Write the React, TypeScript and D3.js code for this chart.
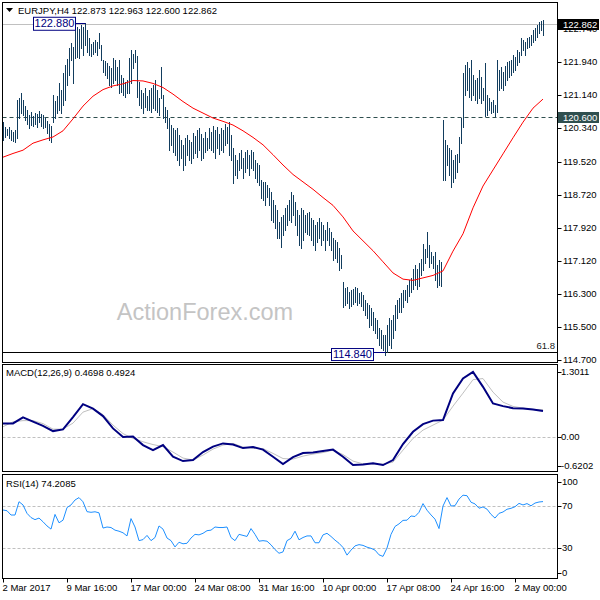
import React from "react";
import * as d3 from "d3";

// ---------- data ----------
const highs = [
  120.48, 120.36, 120.31, 120.36, 120.29, 120.24, 120.29, 121.02, 121.06, 121.19,
  121.02, 120.87, 120.77, 120.65, 120.73, 120.63, 120.70, 120.68, 120.75, 120.68,
  120.65, 120.58, 120.51, 120.43, 120.39, 121.14, 121.00, 121.12, 121.43, 121.26,
  121.67, 121.87, 122.01, 122.28, 122.40, 122.30, 122.79, 122.79, 122.74, 122.84,
  122.79, 122.88, 122.72, 122.52, 122.38, 122.43, 122.47, 122.43, 122.64, 122.35,
  121.99, 121.96, 121.92, 121.84, 121.79, 122.04, 121.99, 121.82, 121.99, 121.62,
  121.55, 121.45, 121.50, 122.04, 122.23, 122.13, 122.23, 122.09, 121.45, 121.26,
  121.19, 121.31, 121.12, 121.26, 121.31, 121.38, 121.50, 121.26, 121.07, 121.82,
  121.14, 120.85, 120.77, 120.58, 120.41, 120.34, 120.29, 120.34, 120.17, 120.05,
  119.92, 120.10, 120.17, 120.05, 120.00, 120.22, 120.14, 120.29, 120.34, 120.19,
  120.10, 120.24, 120.10, 120.34, 120.24, 120.39, 120.29, 120.36, 120.19, 120.34,
  120.29, 120.43, 120.36, 120.48, 120.17, 119.85, 119.68, 119.56, 119.73, 119.80,
  119.61, 119.75, 119.80, 119.68, 119.80, 119.75, 119.56, 119.49, 119.44, 119.07,
  119.03, 119.03, 118.95, 118.88, 118.78, 118.59, 118.47, 118.35, 118.05, 118.17,
  118.22, 118.40, 118.47, 118.59, 118.78, 118.71, 118.54, 118.35, 118.22, 118.40,
  118.35, 118.22, 118.28, 118.30, 118.15, 118.10, 117.98, 118.05, 118.15, 118.05,
  117.98, 117.86, 118.05, 117.91, 117.81, 117.67, 117.62, 117.57, 117.42, 117.25,
  116.60, 116.45, 116.48, 116.36, 116.40, 116.43, 116.48, 116.45, 116.33, 116.36,
  116.28, 116.16, 116.09, 116.04, 115.97, 115.87, 115.72, 115.67, 115.48, 115.43,
  115.31, 115.31, 115.55, 115.72, 115.67, 115.79, 116.04, 116.16, 116.21, 116.33,
  116.40, 116.40, 116.52, 116.64, 116.69, 116.91, 117.01, 116.91, 117.06, 117.16,
  117.52, 117.40, 117.81, 117.49, 117.33, 117.23, 117.33, 117.01, 117.13, 117.08,
  120.53, 120.05, 119.92, 119.85, 119.80, 119.56, 119.68, 119.70, 120.12, 120.58,
  121.67, 121.87, 121.94, 121.79, 121.99, 121.62, 121.50, 121.55, 121.75, 121.57,
  121.31, 121.91, 121.14, 121.07, 120.97, 121.02, 120.90, 121.99, 121.75, 121.82,
  121.70, 121.84, 121.94, 121.97, 121.99, 122.11, 122.06, 122.23, 122.18, 122.52,
  122.47, 122.43, 122.52, 122.55, 122.60, 122.72, 122.77, 122.84, 122.91, 122.93,
  122.963,
];

const lows = [
  120.05, 120.12, 120.17, 120.10, 120.05, 120.02, 120.00, 120.10, 120.58, 120.70,
  120.65, 120.53, 120.43, 120.34, 120.41, 120.39, 120.43, 120.36, 120.48, 120.39,
  120.34, 120.36, 120.22, 120.05, 120.00, 120.48, 120.58, 120.70, 120.77, 120.70,
  120.90, 121.02, 121.38, 121.62, 121.99, 121.43, 122.04, 122.06, 122.04, 122.28,
  122.11, 122.35, 122.18, 122.11, 122.09, 122.13, 122.18, 122.11, 122.28, 121.99,
  121.70, 121.62, 121.55, 121.38, 121.33, 121.43, 121.50, 121.38, 121.19, 121.21,
  121.14, 121.09, 121.19, 121.19, 121.43, 121.79, 121.94, 121.09, 120.90, 120.82,
  120.70, 120.85, 120.77, 120.77, 120.73, 120.82, 120.77, 120.73, 120.65, 121.07,
  120.58, 120.48, 120.34, 119.80, 119.92, 119.75, 119.68, 119.56, 119.44, 119.61,
  119.32, 119.44, 119.68, 119.56, 119.49, 119.61, 119.73, 119.63, 119.80, 119.56,
  119.61, 119.75, 119.80, 119.85, 119.80, 119.75, 119.61, 119.85, 119.70, 119.80,
  119.75, 119.92, 119.97, 119.68, 119.56, 119.00, 119.19, 119.12, 119.32, 119.37,
  119.12, 119.27, 119.37, 119.19, 119.37, 119.32, 119.12, 119.03, 118.95, 118.64,
  118.59, 118.47, 118.66, 118.47, 118.10, 118.05, 117.91, 117.67, 117.67, 117.45,
  117.74, 117.86, 117.98, 118.10, 118.05, 118.22, 117.98, 117.74, 117.49, 117.42,
  117.62, 117.81, 117.76, 117.74, 117.62, 117.49, 117.37, 117.57, 117.67, 117.49,
  117.62, 117.37, 117.62, 117.49, 117.37, 117.13, 117.18, 117.08, 116.89, 116.94,
  115.99, 116.04, 116.09, 115.97, 116.02, 116.06, 116.11, 116.04, 116.09, 116.02,
  115.91, 115.79, 115.72, 115.50, 115.55, 115.43, 115.36, 115.24, 115.07, 115.01,
  114.94, 114.84, 114.89, 115.06, 114.99, 115.24, 115.43, 115.72, 115.87, 115.87,
  115.99, 116.16, 116.11, 116.26, 116.36, 116.43, 116.52, 116.43, 116.50, 116.77,
  116.89, 117.06, 117.21, 116.96, 117.06, 116.94, 116.65, 116.48, 116.52, 116.50,
  119.07, 119.07, 119.44, 119.19, 118.90, 119.03, 119.12, 119.27, 119.51, 119.97,
  120.36, 121.14, 121.26, 121.09, 121.02, 121.14, 121.02, 120.94, 121.07, 120.94,
  121.02, 120.63, 120.65, 120.77, 120.70, 120.73, 120.63, 120.73, 121.26, 121.31,
  121.26, 121.38, 121.50, 121.58, 121.62, 121.70, 121.75, 121.87, 121.94, 122.11,
  122.23, 122.11, 122.28, 122.30, 122.35, 122.43, 122.47, 122.55, 122.64, 122.72,
  122.600,
];

// moving average, one value every 5 bars
const maValues = [
  119.63, 119.72, 119.80, 119.97, 120.05, 120.12, 120.27, 120.56, 120.87, 121.11,
  121.27, 121.36, 121.41, 121.49, 121.48, 121.42, 121.32, 121.16, 120.98, 120.82,
  120.70, 120.58, 120.50, 120.41, 120.27, 120.11, 119.93, 119.69, 119.44, 119.21,
  119.03, 118.85, 118.65, 118.46, 118.18, 117.84, 117.60, 117.36, 117.09, 116.82,
  116.67, 116.64, 116.70, 116.76, 116.87, 117.35, 117.77, 118.40, 118.93, 119.32,
  119.71, 120.10, 120.48, 120.82, 121.04,
];

// MACD(12,26,9), one value every 5 bars
const macdMain = [
  0.248, 0.248, 0.355, 0.280, 0.205, 0.111, 0.141, 0.361, 0.593, 0.513,
  0.379, 0.159, 0.004, 0.013, -0.139, -0.229, -0.139, -0.348, -0.425, -0.407,
  -0.264, -0.166, -0.109, -0.130, -0.193, -0.175, -0.220, -0.348, -0.479, -0.354,
  -0.282, -0.273, -0.246, -0.220, -0.348, -0.496, -0.484, -0.466, -0.496, -0.407,
  -0.121, 0.098, 0.236, 0.298, 0.307, 0.784, 1.052, 1.170, 0.902, 0.605,
  0.557, 0.521, 0.516, 0.495, 0.4698,
];
const macdSignal = [
  0.188, 0.277, 0.298, 0.298, 0.245, 0.146, 0.146, 0.254, 0.450, 0.513,
  0.405, 0.218, 0.066, -0.020, -0.080, -0.130, -0.166, -0.264, -0.371, -0.407,
  -0.318, -0.211, -0.139, -0.109, -0.175, -0.193, -0.202, -0.288, -0.380, -0.389,
  -0.336, -0.300, -0.273, -0.229, -0.309, -0.425, -0.475, -0.479, -0.479, -0.443,
  -0.229, -0.020, 0.129, 0.218, 0.307, 0.557, 0.789, 1.030, 1.050, 0.807,
  0.629, 0.552, 0.521, 0.498, 0.4924,
];

// RSI(14), one value every 2 bars
const rsiValues = [
  66.2, 65.5, 61.4, 61.4, 74.1, 71.0, 63.0, 59.0, 57.0, 58.5,
  55.0, 51.0, 48.0, 62.0, 54.0, 56.5, 68.5, 71.0, 75.7, 78.0,
  74.0, 64.6, 64.0, 64.5, 63.5, 49.0, 50.0, 49.5, 47.0, 46.0,
  44.5, 41.5, 58.0, 50.0, 37.0, 38.0, 42.0, 37.0, 40.0, 51.0,
  48.0, 39.5, 37.0, 31.0, 35.5, 34.0, 34.5, 39.5, 43.0, 42.5,
  44.0, 46.5, 47.0, 50.0, 49.5, 49.5, 50.0, 40.0, 37.0, 43.0,
  42.0, 41.0, 48.5, 43.0, 36.5, 37.0, 36.5, 33.0, 28.5, 25.0,
  26.3, 37.0, 39.2, 46.0, 37.8, 40.0, 41.5, 41.5, 35.0, 35.0,
  42.5, 44.0, 41.0, 37.5, 34.5, 30.5, 23.2, 28.0, 32.0, 33.2,
  32.5, 30.8, 29.7, 28.0, 23.5, 22.0, 30.0, 43.0, 50.5, 53.0,
  56.3, 56.5, 60.5, 60.0, 64.0, 72.3, 66.0, 61.5, 57.5, 48.5,
  70.0, 78.0, 70.0, 70.3, 76.6, 80.3, 79.8, 73.6, 72.0, 67.9,
  69.1, 67.0, 62.0, 58.5, 63.0, 64.3, 66.9, 67.8, 69.3, 72.5,
  71.0, 72.3, 70.2, 72.8, 73.8, 74.2085,
];

const priceTicks = [122.74, 121.94, 121.14, 120.34, 119.52, 118.72, 117.92, 117.12, 116.3, 115.5, 114.7];
const macdTicks = [1.3011, 0, -0.6202];
const macdTickLabels = ["1.3011", "0.00", "-0.6202"];
const rsiTicks = [100, 70, 30, 0];
const rsiLevels = [70, 30];
const timeLabels = [
  "2 Mar 2017", "9 Mar 16:00", "17 Mar 00:00", "24 Mar 08:00", "31 Mar 16:00",
  "10 Apr 00:00", "17 Apr 08:00", "24 Apr 16:00", "2 May 00:00",
];
const lastQuote = { open: 122.873, high: 122.963, low: 122.6, close: 122.862 };
const swingHigh = 122.88;
const swingLow = 114.84;
const levelLine = 120.6;
const fibLevel = 114.91;
const fibText = "61.8";

// ---------- layout ----------
const FONT = "'Liberation Sans', Arial, sans-serif";
const BAR = "#123d5e";
const LEFT = 2.5;
const RIGHT = 557.5;
const MAIN = { top: 2.5, bottom: 362.5 };
const MACD = { top: 364.5, bottom: 471.5 };
const RSI = { top: 474.5, bottom: 578.5 };
const TIME_STEP = 32;
const MA_STEP = 5;
const MACD_STEP = 5;
const RSI_STEP = 2;

export default function App() {
  const n = highs.length;
  const x = d3.scaleLinear().domain([0, n - 1]).range([3, 543]);
  const px = (i: number) => Math.round(x(i)) + 0.5;
  const yMain = d3.scaleLinear().domain([121.94, 114.7]).range([62, 360.3]);
  const yMacd = d3.scaleLinear().domain([1.3011, -0.6202]).range([364.5, 472]);
  const yRsi = d3.scaleLinear().domain([100, 0]).range([474.5, 579.5]);

  const idx = (k: number, step: number) => Math.min(k * step, n - 1);
  const maPath = d3.line<number>().x((_, k) => x(idx(k, MA_STEP))).y((d) => yMain(d))(maValues) || "";
  const macdPath = d3.line<number>().x((_, k) => x(idx(k, MACD_STEP))).y((d) => yMacd(d))(macdMain) || "";
  const sigPath = d3.line<number>().x((_, k) => x(idx(k, MACD_STEP))).y((d) => yMacd(d))(macdSignal) || "";
  const rsiPath = d3.line<number>().x((_, k) => x(idx(k, RSI_STEP))).y((d) => yRsi(d))(rsiValues) || "";

  const clampY = (y: number, top: number, bottom: number) => Math.max(top + 7.5, Math.min(bottom - 6, y));

  const bidY = Math.round(yMain(lastQuote.close)) + 0.5;
  const lvlY = Math.round(yMain(levelLine)) + 0.5;
  const fibY = Math.round(yMain(fibLevel)) + 0.5;
  const hiY = yMain(swingHigh);
  const loY = yMain(swingLow);
  const hiIdx = highs.indexOf(Math.max(...highs.slice(0, 100)));
  const loIdx = lows.indexOf(Math.min(...lows));

  const fmt3 = d3.format(".3f");

  return (
    <svg
      width={600}
      height={600}
      style={{ position: "absolute", left: 0, top: 0, background: "#fff" }}
      fontFamily={FONT}
    >
      <rect x={0} y={0} width={600} height={600} fill="#fff" />

      {/* watermark */}
      <text x={205} y={320} textAnchor="middle" fontSize={23.5} fill="#c4c4c4">ActionForex.com</text>

      {/* main panel lines */}
      <line x1={LEFT} x2={RIGHT} y1={bidY} y2={bidY} stroke="#c0c0c0" strokeWidth={1} />
      <line x1={LEFT} x2={RIGHT} y1={lvlY} y2={lvlY} stroke="#2f4f4f" strokeWidth={1} strokeDasharray="4,3" />
      <line x1={LEFT} x2={RIGHT} y1={fibY} y2={fibY} stroke="#000" strokeWidth={1} />
      <text x={555} y={fibY - 4} textAnchor="end" fontSize={9.5} fill="#222">{fibText}</text>

      {/* OHLC bars */}
      <g shapeRendering="crispEdges">
        {highs.map((h, i) => (
          <line
            key={i}
            x1={px(i)}
            x2={px(i)}
            y1={Math.round(yMain(h))}
            y2={Math.round(yMain(lows[i])) + 1}
            stroke={BAR}
            strokeWidth={1}
          />
        ))}
      </g>

      {/* moving average */}
      <path d={maPath} fill="none" stroke="#ff0000" strokeWidth={1} />

      {/* swing labels */}
      <line x1={76} x2={px(hiIdx)} y1={Math.round(hiY) + 0.5} y2={Math.round(hiY) + 0.5} stroke="#000080" strokeWidth={1} />
      <rect x={33.5} y={hiY - 6} width={42} height={13} fill="#fff" stroke="#000080" strokeWidth={1} />
      <text x={54.5} y={hiY + 0.5} textAnchor="middle" dominantBaseline="middle" fontSize={11} fill="#000080">{fmt3(swingHigh)}</text>

      <line x1={373} x2={px(loIdx)} y1={fibY} y2={fibY} stroke="#000080" strokeWidth={1} />
      <rect x={331.5} y={loY - 6} width={42} height={12} fill="#fff" stroke="#000080" strokeWidth={1} />
      <text x={352.5} y={loY + 0.5} textAnchor="middle" dominantBaseline="middle" fontSize={11} fill="#000080">{fmt3(swingLow)}</text>

      {/* title */}
      <path d="M6,8 L13,8 L9.5,12 Z" fill="#000" />
      <text x={18} y={11} dominantBaseline="middle" fontSize={9.5} fill="#000">
        {`EURJPY,H4  ${fmt3(lastQuote.open)} ${fmt3(lastQuote.high)} ${fmt3(lastQuote.low)} ${fmt3(lastQuote.close)}`}
      </text>

      {/* MACD panel */}
      <line x1={LEFT} x2={RIGHT} y1={Math.round(yMacd(0)) + 0.5} y2={Math.round(yMacd(0)) + 0.5} stroke="#c0c0c0" strokeDasharray="3,2" />
      <path d={sigPath} fill="none" stroke="#c0c0c0" strokeWidth={1} />
      <path d={macdPath} fill="none" stroke="#000080" strokeWidth={2} />
      <text x={6} y={373.5} dominantBaseline="middle" fontSize={9.5} fill="#000">
        {`MACD(12,26,9) ${macdMain[macdMain.length - 1].toFixed(4)} ${macdSignal[macdSignal.length - 1].toFixed(4)}`}
      </text>

      {/* RSI panel */}
      {rsiLevels.map((l) => (
        <line key={l} x1={LEFT} x2={RIGHT} y1={Math.round(yRsi(l)) + 0.5} y2={Math.round(yRsi(l)) + 0.5} stroke="#c0c0c0" strokeDasharray="3,2" />
      ))}
      <path d={rsiPath} fill="none" stroke="#1e90ff" strokeWidth={1} />
      <text x={6} y={484} dominantBaseline="middle" fontSize={9.5} fill="#000">
        {`RSI(14) ${rsiValues[rsiValues.length - 1].toFixed(4)}`}
      </text>

      {/* frames */}
      <g fill="none" stroke="#000" strokeWidth={1} shapeRendering="crispEdges">
        <rect x={LEFT} y={MAIN.top} width={RIGHT - LEFT} height={MAIN.bottom - MAIN.top} />
        <rect x={LEFT} y={MACD.top} width={RIGHT - LEFT} height={MACD.bottom - MACD.top} />
        <rect x={LEFT} y={RSI.top} width={RIGHT - LEFT} height={RSI.bottom - RSI.top} />
      </g>

      {/* price axis */}
      <g fontSize={9.5} fill="#000">
        {priceTicks.map((p) => {
          const y = yMain(p);
          return (
            <g key={p}>
              <line x1={RIGHT} x2={RIGHT + 4} y1={Math.round(y) + 0.5} y2={Math.round(y) + 0.5} stroke="#000" />
              <text x={563} y={y + 0.5} dominantBaseline="middle">{fmt3(p)}</text>
            </g>
          );
        })}
      </g>
      <rect x={558} y={bidY - 5.5} width={41} height={11} fill="#000" />
      <text x={563} y={bidY + 0.5} dominantBaseline="middle" fontSize={9.5} fill="#fff">{fmt3(lastQuote.close)}</text>
      <rect x={558} y={lvlY - 5.5} width={41} height={11} fill="#2f4f4f" />
      <text x={563} y={lvlY + 0.5} dominantBaseline="middle" fontSize={9.5} fill="#fff">{fmt3(levelLine)}</text>

      {/* MACD axis */}
      <g fontSize={9.5} fill="#000">
        {macdTicks.map((v, k) => {
          const y = yMacd(v);
          const ty = clampY(y, MACD.top, MACD.bottom);
          return (
            <g key={k}>
              <line x1={RIGHT} x2={RIGHT + 4} y1={Math.round(ty) + 0.5} y2={Math.round(ty) + 0.5} stroke="#000" />
              <text x={561} y={ty + 0.5} dominantBaseline="middle">{macdTickLabels[k]}</text>
            </g>
          );
        })}
      </g>

      {/* RSI axis */}
      <g fontSize={9.5} fill="#000">
        {rsiTicks.map((v) => {
          const y = yRsi(v);
          const ty = clampY(y, RSI.top, RSI.bottom);
          return (
            <g key={v}>
              <line x1={RIGHT} x2={RIGHT + 4} y1={Math.round(ty) + 0.5} y2={Math.round(ty) + 0.5} stroke="#000" />
              <text x={562} y={ty + 0.5} dominantBaseline="middle">{v}</text>
            </g>
          );
        })}
      </g>

      {/* time axis */}
      <g fontSize={9.5} fill="#000">
        {timeLabels.map((t, k) => {
          const tx = px(k * TIME_STEP);
          return (
            <g key={t}>
              <line x1={tx} x2={tx} y1={RSI.bottom} y2={RSI.bottom + 4} stroke="#000" />
              <text x={tx - 1} y={588.5} dominantBaseline="middle">{t}</text>
            </g>
          );
        })}
      </g>
    </svg>
  );
}
